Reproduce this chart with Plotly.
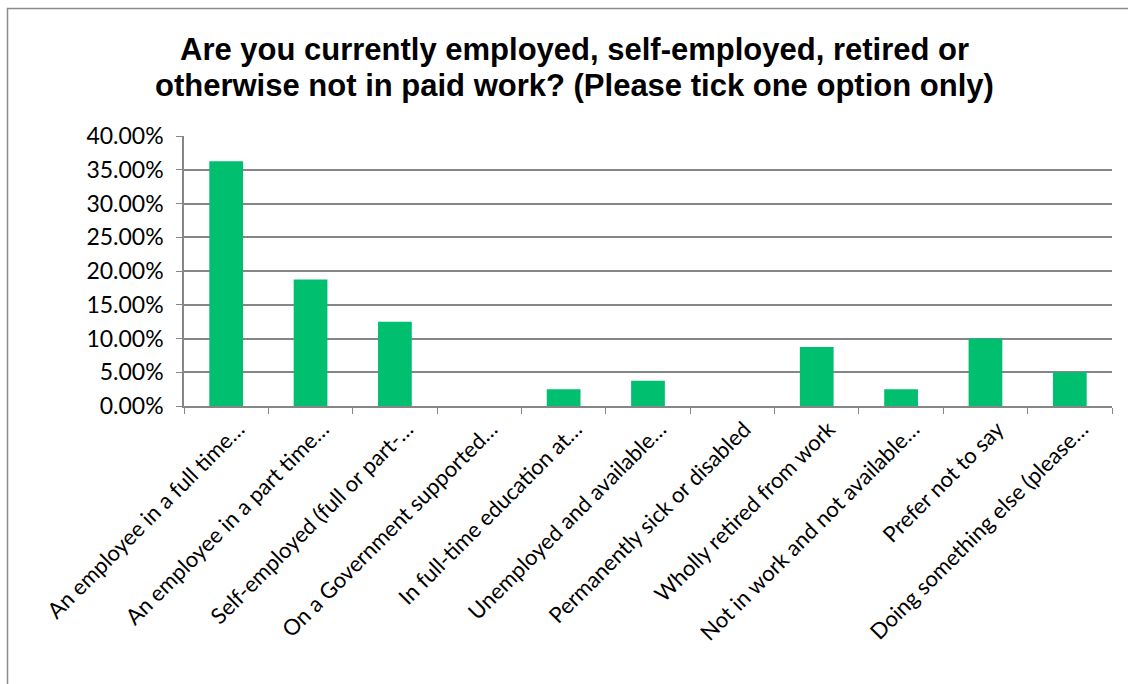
import plotly.graph_objects as go

categories = [
    "An employee in a full time…",
    "An employee in a part time…",
    "Self-employed (full or part-…",
    "On a Government supported…",
    "In full-time education at…",
    "Unemployed and available…",
    "Permanently sick or disabled",
    "Wholly retired from work",
    "Not in work and not available…",
    "Prefer not to say",
    "Doing something else (please…",
]
shares = [0.3625, 0.1875, 0.125, 0.0, 0.025, 0.0375, 0.0, 0.0875, 0.025, 0.10, 0.05]

y_ticks = [0.0, 0.05, 0.10, 0.15, 0.20, 0.25, 0.30, 0.35, 0.40]

title_lines = [
    "Are you currently employed, self-employed, retired or",
    "otherwise not in paid work? (Please tick one option only)",
]

W, H = 1128, 684
ML, MR, MT, MB = 184, 16, 136, 278
pw, ph = W - ML - MR, H - MT - MB

def px_to_paper_x(px):
    return (px - ML) / pw

def px_to_paper_y(py):
    return (H - MB - py) / ph

TICK_FONT = "Lato, Open Sans, sans-serif"
GRAY = "#868686"

fig = go.Figure(
    go.Bar(
        x=categories,
        y=shares,
        marker=dict(color="#00BF6F", line=dict(width=0)),
        hoverinfo="x+y",
    )
)

# two-line bold title, each line placed on its own
title_annotations = [
    dict(
        text=f"<b>{line}</b>",
        xref="paper",
        yref="paper",
        x=px_to_paper_x(574),
        y=px_to_paper_y(cy),
        xanchor="center",
        yanchor="middle",
        showarrow=False,
        font=dict(family="Liberation Sans, Arial", size=31, color="black"),
    )
    for line, cy in zip(title_lines, [49, 85])
]

fig.update_layout(
    width=W,
    height=H,
    margin=dict(l=ML, r=MR, t=MT, b=MB),
    paper_bgcolor="white",
    plot_bgcolor="white",
    bargap=0.6,
    showlegend=False,
    font=dict(family=TICK_FONT, size=22, color="black"),
    annotations=title_annotations,
    shapes=[
        dict(
            type="rect",
            xref="paper",
            yref="paper",
            x0=px_to_paper_x(7.5),
            x1=px_to_paper_x(1140),
            y0=px_to_paper_y(700),
            y1=px_to_paper_y(8.5),
            line=dict(color="#8a8a8a", width=1.5),
            fillcolor="rgba(0,0,0,0)",
            layer="below",
        )
    ],
)

fig.update_xaxes(
    type="category",
    tickangle=-45,
    tickson="boundaries",
    ticks="outside",
    ticklen=6,
    tickcolor=GRAY,
    ticklabelshift=12,
    showline=True,
    linecolor=GRAY,
    linewidth=1.5,
    showgrid=False,
    tickfont=dict(family=TICK_FONT, size=22, color="black"),
)

fig.update_yaxes(
    range=[0, 0.4],
    tickvals=y_ticks,
    tickformat=".2%",
    ticks="outside",
    ticklen=6,
    tickcolor=GRAY,
    ticklabelstandoff=8,
    showline=True,
    linecolor=GRAY,
    linewidth=1.5,
    showgrid=True,
    gridcolor=GRAY,
    gridwidth=1.5,
    zeroline=False,
    tickfont=dict(family=TICK_FONT, size=23, color="black"),
)

fig.write_html("out.html")
